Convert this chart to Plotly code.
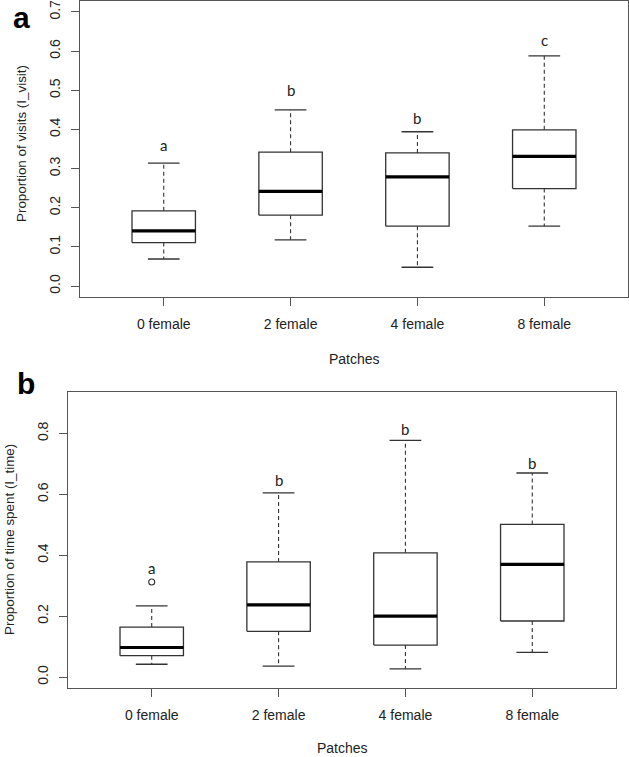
import plotly.graph_objects as go

categories = ["0 female", "2 female", "4 female", "8 female"]
positions = [1, 2, 3, 4]

# Panel a: proportion of visits
a_low = [0.069, 0.118, 0.048, 0.153]
a_q1 = [0.111, 0.181, 0.153, 0.249]
a_med = [0.141, 0.242, 0.279, 0.331]
a_q3 = [0.192, 0.342, 0.340, 0.399]
a_high = [0.314, 0.450, 0.394, 0.588]
a_letters = ["a", "b", "b", "c"]
a_letter_y = [0.359, 0.500, 0.429, 0.628]
a_yticks = [0.0, 0.1, 0.2, 0.3, 0.4, 0.5, 0.6, 0.7]

# Panel b: proportion of time spent
b_low = [0.042, 0.036, 0.027, 0.081]
b_q1 = [0.070, 0.150, 0.105, 0.184]
b_med = [0.097, 0.237, 0.200, 0.370]
b_q3 = [0.164, 0.378, 0.408, 0.501]
b_high = [0.234, 0.605, 0.777, 0.670]
b_out_pos = [1]
b_out_y = [0.312]
b_letters = ["a", "b", "b", "b"]
b_letter_y = [0.359, 0.647, 0.814, 0.703]
b_yticks = [0.0, 0.2, 0.4, 0.6, 0.8]

W, H = 629, 757
BOX_HW = 0.25
CAP_HW = 0.125
LINE = "#333333"
FRAME = "#555555"
TEXT = "#222222"
FONT = "Liberation Sans, Arial, sans-serif"

fig = go.Figure()


def add_panel(xa, ya, low, q1, med, q3, high):
    bx, by, mx, my, wx, wy, cx, cy = [], [], [], [], [], [], [], []
    for p, lo, a, m, b, hi in zip(positions, low, q1, med, q3, high):
        bx += [p - BOX_HW, p + BOX_HW, p + BOX_HW, p - BOX_HW, p - BOX_HW, None]
        by += [a, a, b, b, a, None]
        mx += [p - BOX_HW, p + BOX_HW, None]
        my += [m, m, None]
        wx += [p, p, None, p, p, None]
        wy += [b, hi, None, a, lo, None]
        cx += [p - CAP_HW, p + CAP_HW, None, p - CAP_HW, p + CAP_HW, None]
        cy += [hi, hi, None, lo, lo, None]
    common = dict(xaxis=xa, yaxis=ya, mode="lines", hoverinfo="skip", showlegend=False)
    fig.add_trace(go.Scatter(x=wx, y=wy, line=dict(color=LINE, width=1.1, dash="4px,3px"), **common))
    fig.add_trace(go.Scatter(x=cx, y=cy, line=dict(color=LINE, width=1.3), **common))
    fig.add_trace(go.Scatter(x=bx, y=by, line=dict(color=LINE, width=1.3), **common))
    fig.add_trace(go.Scatter(x=mx, y=my, line=dict(color="#000000", width=3.2), **common))


add_panel("x", "y", a_low, a_q1, a_med, a_q3, a_high)
add_panel("x2", "y2", b_low, b_q1, b_med, b_q3, b_high)
fig.add_trace(go.Scatter(x=b_out_pos, y=b_out_y, xaxis="x2", yaxis="y2", mode="markers",
                         marker=dict(symbol="circle-open", size=6, color=LINE, line=dict(width=1.1)),
                         hoverinfo="skip", showlegend=False))

ann = []
LETTER_FONT = dict(family="Lato, Open Sans, sans-serif", size=15, color=TEXT)
for p, t, y in zip(positions, a_letters, a_letter_y):
    ann.append(dict(x=p, y=y, xref="x", yref="y", text=t, showarrow=False, font=LETTER_FONT))
for p, t, y in zip(positions, b_letters, b_letter_y):
    ann.append(dict(x=p, y=y, xref="x2", yref="y2", text=t, showarrow=False, font=LETTER_FONT))

# panel letters
ann.append(dict(x=21 / W, y=1.0, xref="paper", yref="paper", text="<b>a</b>", showarrow=False,
                font=dict(family=FONT, size=30, color="#000"), xanchor="center", yanchor="top",
                borderpad=0))
ann.append(dict(x=26 / W, y=1 - 366 / H, xref="paper", yref="paper", text="<b>b</b>", showarrow=False,
                font=dict(family=FONT, size=30, color="#000"), xanchor="center", yanchor="top",
                borderpad=0))
# axis titles
TITLE_FONT = dict(family=FONT, size=14, color=TEXT)
ann.append(dict(x=354 / W, y=1 - 359 / H, xref="paper", yref="paper", text="Patches", showarrow=False,
                font=TITLE_FONT, xanchor="center", yanchor="middle"))
ann.append(dict(x=342 / W, y=1 - 748 / H, xref="paper", yref="paper", text="Patches", showarrow=False,
                font=TITLE_FONT, xanchor="center", yanchor="middle"))
ann.append(dict(x=21 / W, y=1 - 144 / H, xref="paper", yref="paper", text="Proportion of visits (I_visit)",
                showarrow=False, textangle=-90, font=dict(family=FONT, size=13.4, color=TEXT),
                xanchor="center", yanchor="middle"))
ann.append(dict(x=9 / W, y=1 - 540 / H, xref="paper", yref="paper", text="Proportion of time spent (I_time)",
                showarrow=False, textangle=-90, font=dict(family=FONT, size=13.4, color=TEXT),
                xanchor="center", yanchor="middle"))

xcommon = dict(range=[0.34, 4.66], tickmode="array", tickvals=positions, ticktext=categories,
               showline=True, mirror=True, linecolor=FRAME, linewidth=1.3, ticks="outside", ticklen=8,
               tickcolor=FRAME, tickwidth=1.2, showgrid=False, zeroline=False, ticklabelstandoff=6,
               tickfont=dict(family=FONT, size=14, color=TEXT), fixedrange=True, automargin=False,
               ticklabeloverflow="allow")
ycommon = dict(showline=True, mirror=True, linecolor=FRAME, linewidth=1.3, ticks="outside", ticklen=8,
               tickcolor=FRAME, tickwidth=1.2, showgrid=False, zeroline=False, tickangle=-90,
               tickformat=".1f", ticklabelstandoff=5, ticklabeloverflow="allow",
               tickfont=dict(family=FONT, size=14, color=TEXT), fixedrange=True, automargin=False)

fig.update_layout(
    width=W, height=H,
    margin=dict(l=0, r=0, t=0, b=0, autoexpand=False),
    paper_bgcolor="white", plot_bgcolor="white",
    xaxis=dict(domain=[80 / W, 628 / W], anchor="y", **xcommon),
    yaxis=dict(domain=[1 - 297 / H, 1 - 1 / H], anchor="x", range=[-0.028, 0.728],
               tickvals=a_yticks, **ycommon),
    xaxis2=dict(domain=[68 / W, 616 / W], anchor="y2", **xcommon),
    yaxis2=dict(domain=[1 - 688 / H, 1 - 392 / H], anchor="x2", range=[-0.036, 0.936],
                tickvals=b_yticks, **ycommon),
    annotations=ann,
)

fig.write_html(
    "out.html",
    config={"displayModeBar": False},
    post_script="document.body.style.margin='0';document.body.style.padding='0';"
                "document.body.style.overflow='hidden';",
)
